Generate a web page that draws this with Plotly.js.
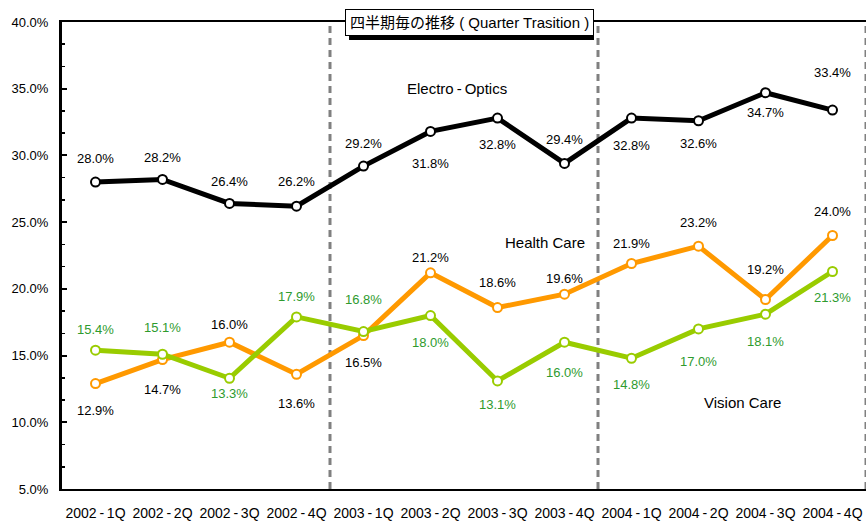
<!DOCTYPE html>
<html>
<head>
<meta charset="utf-8">
<script src="https://cdn.plot.ly/plotly-3.0.1.min.js"></script>
<style>html,body{margin:0;padding:0;background:#fff;}#chart{width:866px;height:529px;}</style>
</head>
<body>
<div id="chart"></div>
<script>
// ---- data ----
const categories = ["2002-1Q","2002-2Q","2002-3Q","2002-4Q","2003-1Q","2003-2Q","2003-3Q","2003-4Q","2004-1Q","2004-2Q","2004-3Q","2004-4Q"];
const electroOptics = [28.0, 28.2, 26.4, 26.2, 29.2, 31.8, 32.8, 29.4, 32.8, 32.6, 34.7, 33.4];
const healthCare    = [12.9, 14.7, 16.0, 13.6, 16.5, 21.2, 18.6, 19.6, 21.9, 23.2, 19.2, 24.0];
const visionCare    = [15.4, 15.1, 13.3, 17.9, 16.8, 18.0, 13.1, 16.0, 14.8, 17.0, 18.1, 21.3];
const seriesNames   = ["Electro-Optics", "Health Care", "Vision Care"];
const chartTitle = "四半期毎の推移 ( Quarter Trasition )";
const yTickVals = [5, 10, 15, 20, 25, 30, 35, 40];

// ---- label placement (pixel offsets, + = below point) ----
const eoLabelOffset = [-24, -22, -22, -25, -23, 32, 26, -24, 27, 23, 20, -38];
const hcLabelOffset = [27, 30, -18, 29, 27, -15, -25, -16, -20, -24, -30, -24];
const vcLabelOffset = [-21, -27, 15, -20, -32, 27, 24, 30, 26, 33, 27, 26];

const FONT = "Liberation Sans, Arial, Noto Sans CJK JP, sans-serif";
const colEO = "#000000", colHC = "#FF9900", colVC = "#99CC00", colVCText = "#2E9B2E";

function spaced(s) { return s.replace("-", "\u2009-\u2009"); }

function lineTrace(vals, color, name) {
  return {
    type: "scatter", mode: "lines+markers", name: name,
    x: categories, y: vals,
    line: {color: color, width: 5},
    marker: {symbol: "circle", size: 9, color: "#ffffff", line: {color: color, width: 2}},
    cliponaxis: false, hoverinfo: "x+y"
  };
}

const traces = [
  lineTrace(electroOptics, colEO, seriesNames[0]),
  lineTrace(healthCare, colHC, seriesNames[1]),
  lineTrace(visionCare, colVC, seriesNames[2])
];

function labels(vals, offsets, color) {
  return vals.map((v, i) => ({
    x: categories[i], y: v, xref: "x", yref: "y",
    text: v.toFixed(1) + "%", showarrow: false,
    yshift: -offsets[i],
    font: {family: FONT, size: 13, color: color}
  }));
}

const annotations = []
  .concat(labels(electroOptics, eoLabelOffset, "#000000"))
  .concat(labels(healthCare, hcLabelOffset, "#000000"))
  .concat(labels(visionCare, vcLabelOffset, colVCText));

// series name labels
annotations.push({x: 5.4, y: 35.05, xref: "x", yref: "y", text: spaced(seriesNames[0]), showarrow: false, font: {family: FONT, size: 15, color: "#000"}});
annotations.push({x: 6.71, y: 23.45, xref: "x", yref: "y", text: seriesNames[1], showarrow: false, font: {family: FONT, size: 15, color: "#000"}});
annotations.push({x: 9.65, y: 11.45, xref: "x", yref: "y", text: seriesNames[2], showarrow: false, font: {family: FONT, size: 15, color: "#000"}});

// title box
annotations.push({x: 0.507, y: 1, xref: "paper", yref: "paper", yanchor: "middle", xanchor: "center",
  text: chartTitle, showarrow: false, borderwidth: 1, borderpad: 4, bordercolor: "#000", bgcolor: "#fff",
  font: {family: FONT, size: 15, color: "#000"}});

const shapes = [3.5, 7.5, 11.5].map(xv => ({
  type: "line", xref: "x", yref: "paper", x0: xv, x1: xv, y0: 0, y1: 1,
  line: {color: "#808080", width: 3, dash: "7px,5px"}, layer: "below"
}));
// title box drop shadow
shapes.push({type: "rect", xref: "paper", yref: "paper", x0: 0.357, x1: 0.6617, y0: 0.9615, y1: 1.0193,
  fillcolor: "#000", line: {width: 0}, layer: "above"});

const layout = {
  width: 866, height: 529,
  margin: {l: 62, r: 0, t: 22, b: 40, pad: 0},
  paper_bgcolor: "#fff", plot_bgcolor: "#fff",
  showlegend: false,
  font: {family: FONT, size: 13, color: "#000"},
  xaxis: {
    type: "category", range: [-0.5, 11.5],
    tickvals: categories, ticktext: categories.map(spaced),
    showline: true, linecolor: "#000", linewidth: 2, mirror: true,
    showgrid: false, zeroline: false, ticks: "",
    tickfont: {family: FONT, size: 14, color: "#000"},
    ticklabelstandoff: 10
  },
  yaxis: {
    range: [5, 40], tickvals: yTickVals,
    ticktext: yTickVals.map(v => v.toFixed(1) + "%"),
    showline: true, linecolor: "#000", linewidth: 3, mirror: false,
    showgrid: false, zeroline: false,
    ticks: "inside", ticklen: 5, tickwidth: 2, tickcolor: "#000",
    minor: {ticks: "inside", ticklen: 3, tickwidth: 1.5, tickcolor: "#000", dtick: 5/3, showgrid: false},
    tickfont: {family: FONT, size: 13, color: "#000"},
    ticklabelstandoff: 8
  },
  shapes: shapes,
  annotations: annotations
};

Plotly.newPlot("chart", traces, layout, {displayModeBar: false, staticPlot: true});
</script>
</body>
</html>
